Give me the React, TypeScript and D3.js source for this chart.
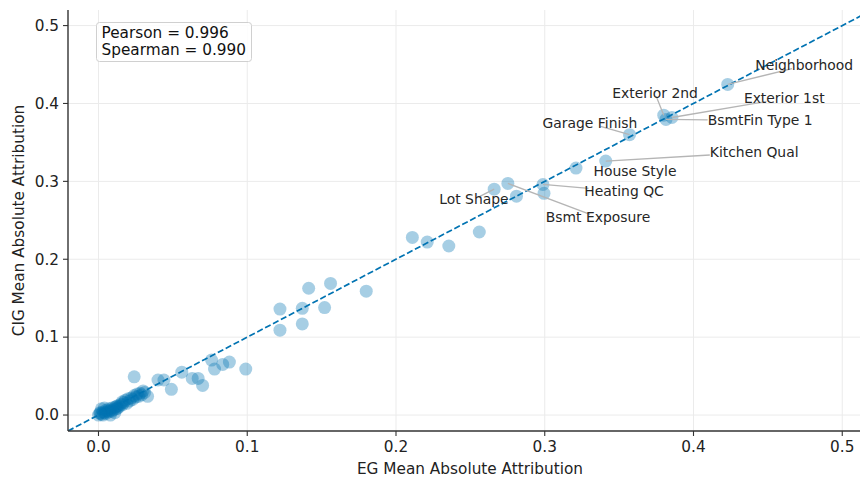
import React, { useEffect, useRef } from 'react';
import * as d3 from 'd3';

// labelled features (top attributions)
const labeledFeatures = [
  'Neighborhood', 'Exterior 2nd', 'Exterior 1st', 'BsmtFin Type 1', 'Garage Finish',
  'Kitchen Qual', 'House Style', 'Heating QC', 'Lot Shape', 'Bsmt Exposure',
];
const labeledEG = [0.423, 0.380, 0.3855, 0.3815, 0.357, 0.341, 0.321, 0.2988, 0.266, 0.2752];
const labeledCIG = [0.4244, 0.385, 0.382, 0.3795, 0.360, 0.326, 0.317, 0.296, 0.290, 0.2974];
// where adjustText put each label (data units) and whether it got a connector
const labelEG = [0.4744, 0.3742, 0.461, 0.4448, 0.3304, 0.4408, 0.3607, 0.3533, 0.2524, 0.3358];
const labelCIG = [0.4487, 0.4128, 0.4064, 0.3782, 0.3744, 0.3372, 0.3128, 0.2872, 0.2769, 0.2538];
const labelHasLine = [true, true, true, true, true, true, false, true, true, true];

// remaining features
const otherEG = [
  0.281, 0.2995,
  0.256, 0.2355, 0.221, 0.211,
  0.180, 0.156, 0.1413, 0.152, 0.137, 0.122, 0.137, 0.122,
  0.099, 0.088, 0.0835, 0.078, 0.076, 0.070, 0.067, 0.063, 0.056, 0.049, 0.044, 0.040, 0.024,
  0.033, 0.031, 0.030, 0.029, 0.028, 0.027, 0.026, 0.025, 0.024, 0.023, 0.022, 0.021, 0.020,
  0.019, 0.018, 0.017, 0.016, 0.016, 0.015, 0.014, 0.013, 0.013, 0.012, 0.012, 0.011, 0.011,
  0.010, 0.009, 0.009, 0.008, 0.008, 0.007, 0.007, 0.006, 0.005, 0.005, 0.004, 0.004, 0.003,
  0.003, 0.002, 0.002, 0.001, 0.001, 0.000,
];
const otherCIG = [
  0.281, 0.2846,
  0.235, 0.217, 0.222, 0.228,
  0.159, 0.169, 0.1628, 0.138, 0.137, 0.136, 0.117, 0.109,
  0.059, 0.068, 0.065, 0.059, 0.0705, 0.038, 0.047, 0.047, 0.055, 0.033, 0.045, 0.045, 0.049,
  0.024, 0.029, 0.031, 0.026, 0.028, 0.024, 0.027, 0.023, 0.025, 0.020, 0.022, 0.018, 0.021,
  0.015, 0.019, 0.016, 0.013, 0.017, 0.014, 0.011, 0.012, 0.009, 0.008, 0.011, 0.010, 0.003,
  0.007, 0.009, 0.005, 0.006, 0.000, 0.008, 0.004, 0.005, 0.006, 0.002, 0.003, 0.009, 0.004,
  0.000, 0.001, 0.008, 0.003, 0.002, 0.000,
];

const xTicks = [0, 0.1, 0.2, 0.3, 0.4, 0.5];
const yTicks = [0, 0.1, 0.2, 0.3, 0.4, 0.5];
const statLines = ['Pearson = 0.996', 'Spearman = 0.990'];

const BLUE = '#0173B2';
const FONT = '"DejaVu Sans", sans-serif';

const ScatterChart = () => {
  const ref = useRef<SVGSVGElement | null>(null);

  useEffect(() => {
    if (!ref.current) return;
    const svg = d3.select(ref.current);
    svg.selectAll('*').remove();

    const W = 860, H = 481;
    const m = { left: 68, right: 872, top: 10, bottom: 431 };
    const dom: [number, number] = [-0.0205, 0.52];
    const x = d3.scaleLinear().domain(dom).range([m.left, m.right]);
    const y = d3.scaleLinear().domain(dom).range([m.bottom, m.top]);

    svg.append('rect').attr('width', W).attr('height', H).attr('fill', '#fff');
    svg.append('defs').append('clipPath').attr('id', 'plotclip')
      .append('rect').attr('x', m.left).attr('y', m.top)
      .attr('width', m.right - m.left).attr('height', m.bottom - m.top);

    // grid
    const grid = svg.append('g');
    grid.selectAll('line.vx').data(xTicks).enter().append('line')
      .attr('x1', d => x(d)).attr('x2', d => x(d)).attr('y1', m.top).attr('y2', m.bottom)
      .attr('stroke', '#ebebeb').attr('stroke-width', 1);
    grid.selectAll('line.hy').data(yTicks).enter().append('line')
      .attr('y1', d => y(d)).attr('y2', d => y(d)).attr('x1', m.left).attr('x2', m.right)
      .attr('stroke', '#ebebeb').attr('stroke-width', 1);

    const plot = svg.append('g').attr('clip-path', 'url(#plotclip)');

    const others = otherEG.map((v, i) => [v, otherCIG[i]]);
    const labeled = labeledEG.map((v, i) => [v, labeledCIG[i]]);
    plot.selectAll('circle.o').data(others.concat(labeled)).enter().append('circle')
      .attr('cx', d => x(d[0])).attr('cy', d => y(d[1])).attr('r', 6.5)
      .attr('fill', BLUE).attr('fill-opacity', 0.35);

    // y = x reference
    plot.append('line')
      .attr('x1', x(dom[0])).attr('y1', y(dom[0])).attr('x2', x(dom[1])).attr('y2', y(dom[1]))
      .attr('stroke', BLUE).attr('stroke-width', 1.7).attr('stroke-dasharray', '6.2,2.7');

    // annotations
    const ann = svg.append('g');
    const texts = ann.selectAll('text').data(labeledFeatures).enter().append('text')
      .attr('x', (d, i) => x(labelEG[i])).attr('y', (d, i) => y(labelCIG[i]))
      .attr('text-anchor', 'middle').attr('dy', '0.35em')
      .attr('font-family', FONT).attr('font-size', 13.9).attr('fill', '#262626')
      .text(d => d);
    texts.each(function (d, i) {
      if (!labelHasLine[i]) return;
      const hw = (this as SVGTextElement).getComputedTextLength() / 2;
      const hh = 3;
      const cx = x(labelEG[i]), cy = y(labelCIG[i]);
      const px = x(labeledEG[i]), py = y(labeledCIG[i]);
      const dx = cx - px, dy = cy - py;
      const s = Math.min(dx ? hw / Math.abs(dx) : Infinity, dy ? hh / Math.abs(dy) : Infinity, 1);
      ann.insert('line', 'text')
        .attr('x1', px).attr('y1', py).attr('x2', cx - s * dx).attr('y2', cy - s * dy)
        .attr('stroke', '#b5b5b5').attr('stroke-width', 1.3);
    });

    // spines + ticks
    const axes = svg.append('g').attr('font-family', FONT).attr('font-size', 15.3).attr('fill', '#222');
    axes.selectAll('line.xt').data(xTicks).enter().append('line')
      .attr('x1', d => x(d)).attr('x2', d => x(d)).attr('y1', m.bottom).attr('y2', m.bottom + 5)
      .attr('stroke', '#333').attr('stroke-width', 1.1);
    axes.selectAll('text.xt').data(xTicks).enter().append('text')
      .attr('x', d => x(d)).attr('y', m.bottom + 21).attr('text-anchor', 'middle')
      .text(d => d3.format('.1f')(d));
    axes.selectAll('line.yt').data(yTicks).enter().append('line')
      .attr('y1', d => y(d)).attr('y2', d => y(d)).attr('x1', m.left - 5).attr('x2', m.left)
      .attr('stroke', '#333').attr('stroke-width', 1.1);
    axes.selectAll('text.yt').data(yTicks).enter().append('text')
      .attr('x', m.left - 9).attr('y', d => y(d)).attr('dy', '0.35em').attr('text-anchor', 'end')
      .text(d => d3.format('.1f')(d));
    axes.append('line').attr('x1', m.left).attr('x2', m.left).attr('y1', m.top).attr('y2', m.bottom)
      .attr('stroke', '#333').attr('stroke-width', 1.4);
    axes.append('line').attr('x1', m.left).attr('x2', m.right).attr('y1', m.bottom).attr('y2', m.bottom)
      .attr('stroke', '#333').attr('stroke-width', 1.4);

    axes.append('text').attr('x', (m.left + m.right) / 2).attr('y', 474).attr('text-anchor', 'middle')
      .text('EG Mean Absolute Attribution');
    axes.append('text').attr('transform', `translate(24,${(m.top + m.bottom) / 2}) rotate(-90)`)
      .attr('text-anchor', 'middle').text('CIG Mean Absolute Attribution');

    // stats box
    const box = svg.append('g');
    box.append('rect').attr('x', 96.5).attr('y', 22.5).attr('width', 155).attr('height', 39)
      .attr('rx', 3).attr('fill', '#fff').attr('fill-opacity', 0.85)
      .attr('stroke', '#d0d0d0').attr('stroke-width', 1);
    box.selectAll('text').data(statLines).enter().append('text')
      .attr('x', 101.5).attr('y', (d, i) => 38 + i * 16.5)
      .attr('font-family', FONT).attr('font-size', 15.3).attr('fill', '#111')
      .text(d => d);
  }, []);

  return <svg ref={ref} width={860} height={481} style={{ display: 'block' }} />;
};

export default function App() {
  return (
    <div style={{ position: 'absolute', top: 0, left: 0 }}>
      <ScatterChart />
    </div>
  );
}
